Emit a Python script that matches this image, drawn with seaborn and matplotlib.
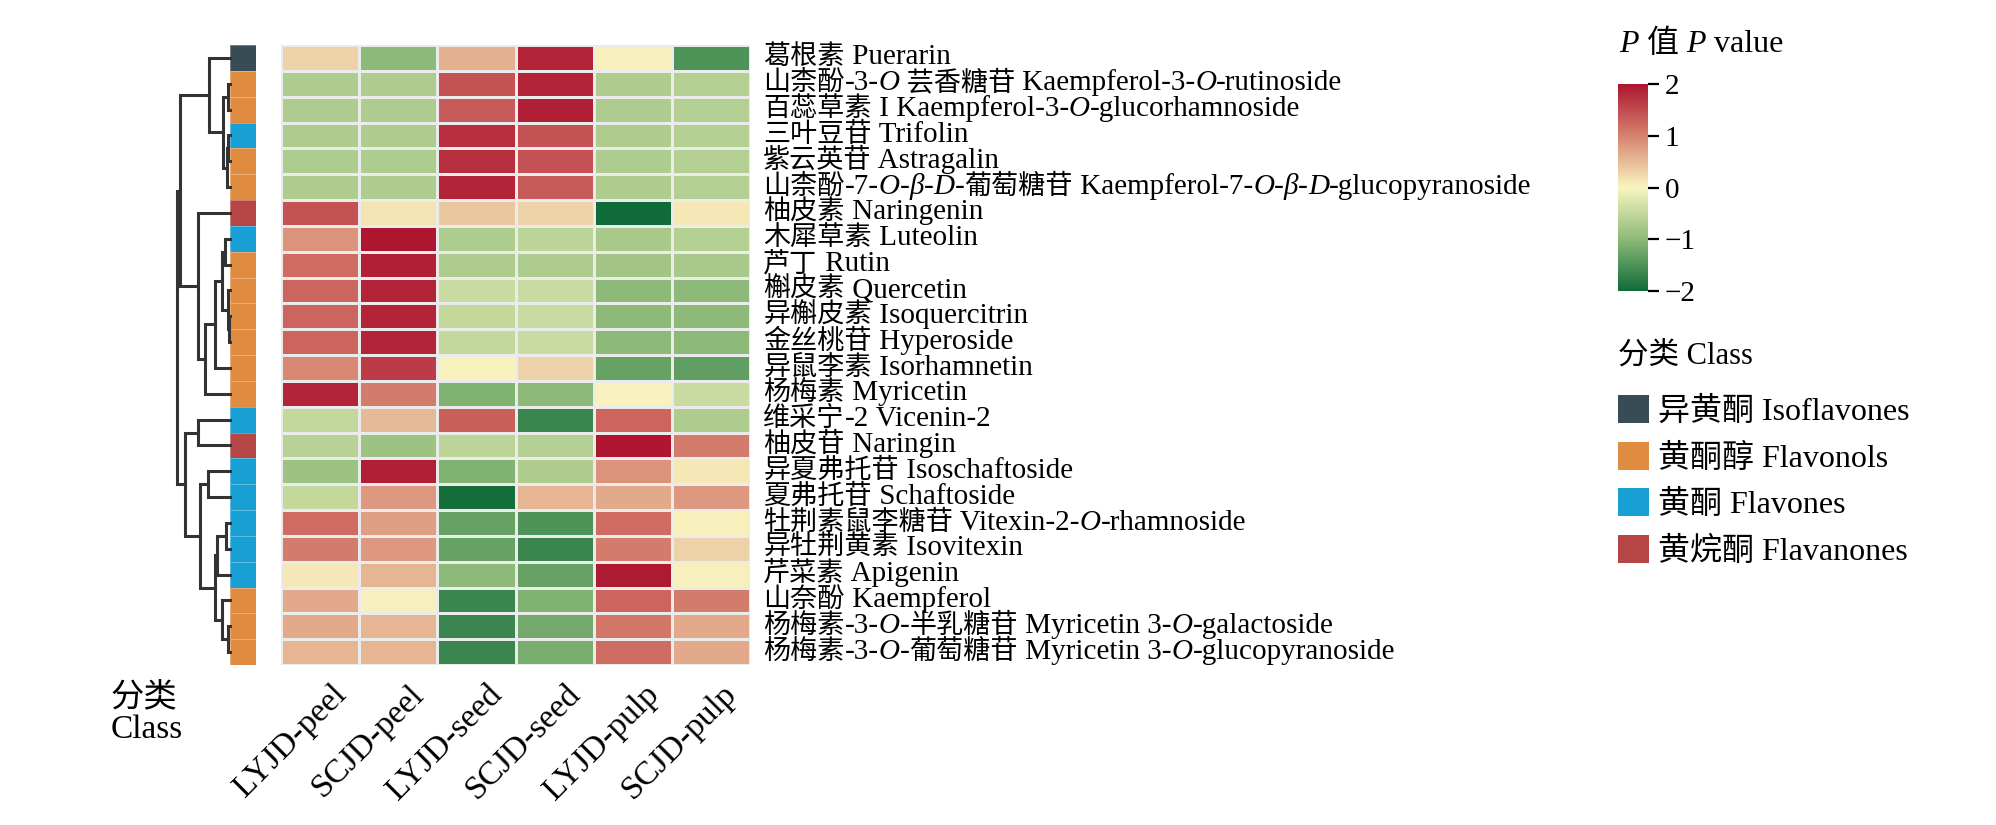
import matplotlib
matplotlib.use("Agg")
import matplotlib.pyplot as plt
import seaborn as sns
import numpy as np
import pandas as pd
from matplotlib.colors import LinearSegmentedColormap, ListedColormap
from matplotlib.patches import Patch

# --- data ---
samples = ['LYJD-peel', 'SCJD-peel', 'LYJD-seed', 'SCJD-seed', 'LYJD-pulp', 'SCJD-pulp']

# italic parts are wrapped in *...*
compounds = [
    '葛根素 Puerarin',
    '山柰酚-3-*O* 芸香糖苷 Kaempferol-3-*O*-rutinoside',
    '百蕊草素 I Kaempferol-3-*O*-glucorhamnoside',
    '三叶豆苷 Trifolin',
    '紫云英苷 Astragalin',
    '山柰酚-7-*O*-*β*-*D*-葡萄糖苷 Kaempferol-7-*O*-*β*-*D*-glucopyranoside',
    '柚皮素 Naringenin',
    '木犀草素 Luteolin',
    '芦丁 Rutin',
    '槲皮素 Quercetin',
    '异槲皮素 Isoquercitrin',
    '金丝桃苷 Hyperoside',
    '异鼠李素 Isorhamnetin',
    '杨梅素 Myricetin',
    '维采宁-2 Vicenin-2',
    '柚皮苷 Naringin',
    '异夏弗托苷 Isoschaftoside',
    '夏弗托苷 Schaftoside',
    '牡荆素鼠李糖苷 Vitexin-2-*O*-rhamnoside',
    '异牡荆黄素 Isovitexin',
    '芹菜素 Apigenin',
    '山奈酚 Kaempferol',
    '杨梅素-3-*O*-半乳糖苷 Myricetin 3-*O*-galactoside',
    '杨梅素-3-*O*-葡萄糖苷 Myricetin 3-*O*-glucopyranoside',
]

class_names = ['异黄酮 Isoflavones', '黄酮醇 Flavonols', '黄酮 Flavones', '黄烷酮 Flavanones']
class_colors = ['#374c55', '#e08c40', '#18a0d4', '#b64646']
row_class = [0, 1, 1, 2, 1, 1, 3, 2, 1, 1, 1, 1, 1, 1, 2, 3, 2, 2, 2, 2, 2, 1, 1, 1]

lyjd_peel = [0.3, -0.7, -0.7, -0.7, -0.7, -0.7, 1.45, 0.85, 1.2, 1.25, 1.25, 1.25,
             0.95, 1.85, -0.5, -0.6, -0.85, -0.5, 1.2, 1.05, 0.12, 0.65, 0.65, 0.55]
scjd_peel = [-1.0, -0.7, -0.7, -0.7, -0.7, -0.7, 0.15, 2.0, 1.9, 1.85, 1.85, 1.85,
             1.65, 1.05, 0.5, -0.85, 1.9, 0.8, 0.75, 0.8, 0.55, 0.05, 0.55, 0.55]
lyjd_seed = [0.6, 1.45, 1.35, 1.75, 1.75, 1.85, 0.4, -0.7, -0.7, -0.45, -0.5, -0.5,
             0.02, -1.1, 1.3, -0.55, -1.1, -1.95, -1.3, -1.3, -1.0, -1.65, -1.65, -1.65]
scjd_seed = [1.85, 1.85, 1.9, 1.45, 1.45, 1.35, 0.3, -0.55, -0.7, -0.45, -0.45, -0.45,
             0.3, -1.0, -1.65, -0.65, -0.7, 0.55, -1.5, -1.65, -1.3, -1.1, -1.2, -1.15]
lyjd_pulp = [0.05, -0.7, -0.7, -0.7, -0.7, -0.7, -2.0, -0.75, -0.8, -1.0, -1.0, -1.0,
             -1.3, 0.02, 1.25, 2.0, 0.85, 0.65, 1.2, 1.05, 1.95, 1.25, 1.1, 1.2]
scjd_pulp = [-1.5, -0.65, -0.65, -0.65, -0.65, -0.65, 0.12, -0.65, -0.75, -1.0, -1.0, -1.0,
             -1.35, -0.45, -0.7, 1.05, 0.12, 0.8, 0.05, 0.3, 0.05, 1.05, 0.65, 0.65]

# row dendrogram: [merge height, left, right], leaves are row indices
row_tree = [53.3,
            [50, [20.7, 0, [6.7, [1.7, 1, 2], [3.3, [1.7, 3, 4], 5]]],
                 [31.7, 6, [25, [15, [8.3, [5, 7, 8], [2.3, 9, [1, 10, 11]]], 12], 13]]],
            [45, [31.7, 14, 15],
                 [30, [21.7, 16, 17],
                      [15.5, [13.3, [4, 18, 19], 20], [8.3, 21, [1.7, 22, 23]]]]]]

df = pd.DataFrame({'LYJD-peel': lyjd_peel, 'SCJD-peel': scjd_peel,
                   'LYJD-seed': lyjd_seed, 'SCJD-seed': scjd_seed,
                   'LYJD-pulp': lyjd_pulp, 'SCJD-pulp': scjd_pulp})

plt.rcParams['font.family'] = ['Liberation Serif', 'Noto Sans CJK SC']
plt.rcParams['axes.unicode_minus'] = True

W, H = 1996, 825
fig = plt.figure(figsize=(W / 100, H / 100), dpi=100)
fig.patch.set_facecolor('white')


def px_axes(x0, y0, x1, y1):
    return fig.add_axes([x0 / W, 1 - y1 / H, (x1 - x0) / W, (y1 - y0) / H])


def split_runs(markup):
    # runs of (text, italic?, cjk?); '*' toggles italic, spaces join the next run
    runs = []
    italic = False
    pending = ''
    for ch in markup:
        if ch == '*':
            italic = not italic
            continue
        if ch == ' ':
            pending += ' '
            continue
        cjk = ord(ch) >= 0x2E80
        if runs and not pending and runs[-1][1] == italic and runs[-1][2] == cjk:
            runs[-1][0] += ch
        else:
            runs.append([pending + ch, italic, cjk])
        pending = ''
    return runs


def rich_text(ax, x, y, markup, size, cjk_size=None, transform=None):
    prev = None
    for seg, italic, cjk in split_runs(markup):
        fs = cjk_size if (cjk and cjk_size) else size
        style = 'italic' if italic else 'normal'
        if prev is None:
            prev = ax.text(x, y, seg, fontsize=fs, style=style, va='center', ha='left',
                           transform=transform if transform is not None else ax.transData)
        else:
            prev = ax.annotate(seg, xy=(1, 0), xycoords=prev, fontsize=fs, style=style,
                               va='bottom', ha='left')
    return prev


top, bottom = 45, 665
ax_hm = px_axes(281, top, 750, bottom)
ax_cls = px_axes(230, top, 256, bottom)
ax_den = px_axes(230 - 53.3, top, 230, bottom)
cax = px_axes(1618, 84, 1648, 291)

cmap = LinearSegmentedColormap.from_list(
    'pv', [(0.0, '#0f6b38'), (0.25, '#8dba78'), (0.5, '#f9f5c0'),
           (0.75, '#d6826f'), (1.0, '#ad1530')])

sns.heatmap(df, ax=ax_hm, cmap=cmap, vmin=-2, vmax=2, linewidths=2, linecolor='#ebebeb',
            xticklabels=False, yticklabels=False, cbar_ax=cax,
            cbar_kws={'ticks': [-2, -1, 0, 1, 2]})
ax_hm.set_xlabel('')
ax_hm.set_ylabel('')

# sample labels, rotated under each column
for j, s in enumerate(samples):
    ax_hm.annotate(s, xy=(j + 0.5, len(compounds)), xycoords='data',
                   xytext=(7.5, -10), textcoords='offset points', fontsize=24,
                   rotation=45, rotation_mode='anchor', ha='right', va='top',
                   annotation_clip=False)

for i, name in enumerate(compounds):
    rich_text(ax_hm, len(samples) + 0.17, i + 0.5, name, 21, cjk_size=19.5)

# class annotation bar
sns.heatmap(np.array(row_class).reshape(-1, 1), ax=ax_cls, cmap=ListedColormap(class_colors),
            vmin=-0.5, vmax=3.5, cbar=False, linewidths=0.6, linecolor=(1, 1, 1, 0.3),
            xticklabels=False, yticklabels=False)

# dendrogram
def draw_tree(ax, node):
    if isinstance(node, int):
        return node + 0.5, 0.0
    h, left, right = node
    y1, h1 = draw_tree(ax, left)
    y2, h2 = draw_tree(ax, right)
    ax.plot([h1, h, h, h2], [y1, y1, y2, y2], color='#333333', lw=2.2,
            solid_joinstyle='miter', clip_on=False)
    return (y1 + y2) / 2, h


draw_tree(ax_den, row_tree)
ax_den.set_xlim(row_tree[0], 0)
ax_den.set_ylim(len(compounds), 0)
ax_den.axis('off')

# colorbar
cbar = ax_hm.collections[0].colorbar
cbar.outline.set_visible(False)
cbar.ax.tick_params(labelsize=21, length=8, width=1.6, color='black', pad=4)
rich_text(cax, 0.05, 1.19, '*P* 值 *P* value', 23, transform=cax.transAxes)

# class legend
fig.text(1618 / W, 1 - 356 / H, '分类 Class', fontsize=22, ha='left', va='center')
handles = [Patch(facecolor=c, edgecolor='none') for c in class_colors]
fig.legend(handles, class_names, loc='upper left',
           bbox_to_anchor=(1618 / W, 1 - 395 / H), frameon=False, fontsize=23,
           handlelength=0.97, handleheight=0.97, handletextpad=0.28,
           labelspacing=0.46, borderpad=0, borderaxespad=0)

fig.text(111 / W, 1 - 683 / H, '分类\nClass', fontsize=24, ha='left', va='top',
         linespacing=1.05)

fig.savefig('out.png', dpi=100)
